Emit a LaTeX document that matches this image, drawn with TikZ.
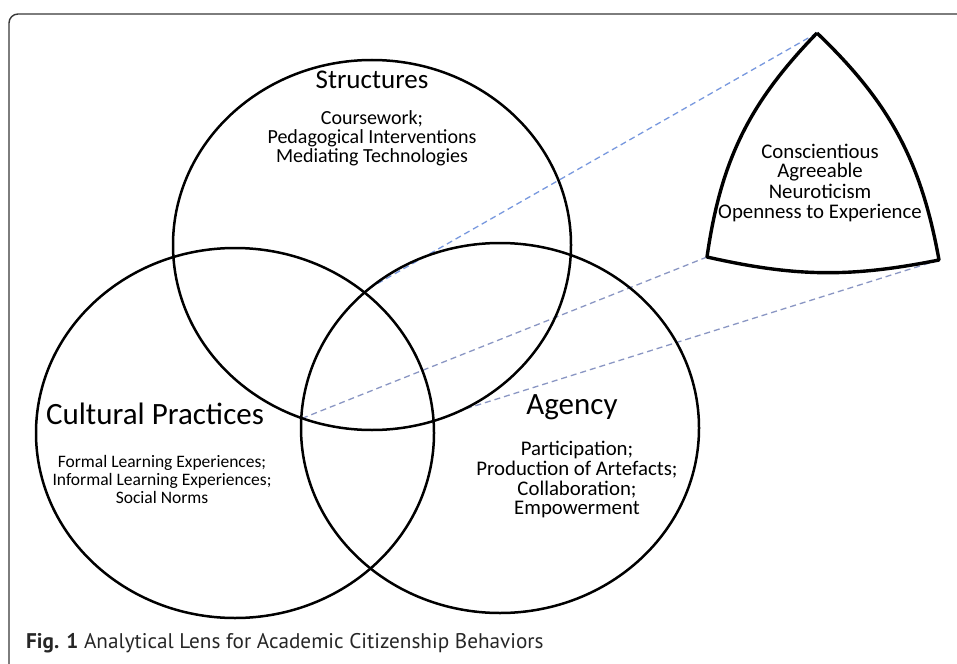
\documentclass[tikz,border=0pt]{standalone}
\usepackage{fontspec}
\setmainfont{Carlito}
\newfontfamily\capfont{PT Sans}
\usetikzlibrary{shapes.geometric,calc}
\definecolor{dashblue}{RGB}{120,152,222}
\definecolor{dashgray}{RGB}{138,150,195}
\definecolor{framegray}{RGB}{55,55,55}
\tikzset{
  venn/.style={draw=black, line width=2.5pt, ellipse, minimum width=398pt, minimum height=370pt, inner sep=0pt, outer sep=0pt},
  tri/.style={draw=black, line width=3.4pt, line join=round},
  dashline/.style={line width=1.3pt, dash pattern=on 6pt off 4pt},
  head/.style={anchor=base, inner sep=0pt, font=\fontsize{31}{31}\selectfont},
  headS/.style={anchor=base, inner sep=0pt, font=\fontsize{27}{27}\selectfont},
  bodyL/.style={anchor=base, inner sep=0pt, font=\fontsize{20.8}{20}\selectfont},
  bodyM/.style={anchor=base, inner sep=0pt, font=\fontsize{20}{18}\selectfont},
  bodyS/.style={anchor=base, inner sep=0pt, font=\fontsize{17.5}{18}\selectfont},
}
\begin{document}
\begin{tikzpicture}[x=1pt,y=-1pt]
\useasboundingbox (0,0) rectangle (957,663);
% frame
\draw[framegray, line width=1.4pt, rounded corners=9pt] (9,666) -- (9,14) -- (960,14);
% triangle vertices and dashed connectors
\coordinate (T) at (817,33);
\coordinate (L) at (707,257);
\coordinate (R) at (939,260);
\coordinate (e1) at (368,289);
\coordinate (e2) at (303,418);
\coordinate (e3) at (465,409);
\draw[dashline, dashblue] (T) -- (e1);
\draw[dashline, dashgray] (L) -- (e2);
\draw[dashline, dashgray] (R) -- (e3);
% circles
\node[venn] (S) at (372,245) {};
\node[venn] (C) at (235,433) {};
\node[venn] (A) at (500,428) {};
% triangle
\draw[tri] (T) to[bend left=18] (R) to[bend left=12] (L) to[bend left=18] (T);
% Structures
\node[headS] (sh) at (372,89) {Structures};
\node[bodyM] (s1) at (372,125) {Coursework;};
\node[bodyM] (s2) at (372,143.5) {Pedagogical Interventions};
\node[bodyM] (s3) at (372,162) {Mediating Technologies};
% Cultural Practices
\node[head] (ch) at (155,424) {Cultural Practices};
\node[bodyS] (c1) at (162,467) {Formal Learning Experiences;};
\node[bodyS] (c2) at (162,485) {Informal Learning Experiences;};
\node[bodyS] (c3) at (162,503) {Social Norms};
% Agency
\node[head] (ah) at (572,414) {Agency};
\node[bodyL] (a1) at (577,455) {Participation;};
\node[bodyL] (a2) at (577,475) {Production of Artefacts;};
\node[bodyL] (a3) at (577,495) {Collaboration;};
\node[bodyL] (a4) at (577,514) {Empowerment};
% triangle text
\node[bodyL] (t1) at (820,158) {Conscientious};
\node[bodyL] (t2) at (820,178) {Agreeable};
\node[bodyL] (t3) at (820,198) {Neuroticism};
\node[bodyL] (t4) at (820,218) {Openness to Experience};
% caption
\node[anchor=base west, inner sep=0pt, font=\capfont\fontsize{21.2}{21.2}\selectfont, text=black!85] (cap) at (26,648) {\textbf{Fig. 1} Analytical Lens for Academic Citizenship Behaviors};
\end{tikzpicture}
\end{document}
